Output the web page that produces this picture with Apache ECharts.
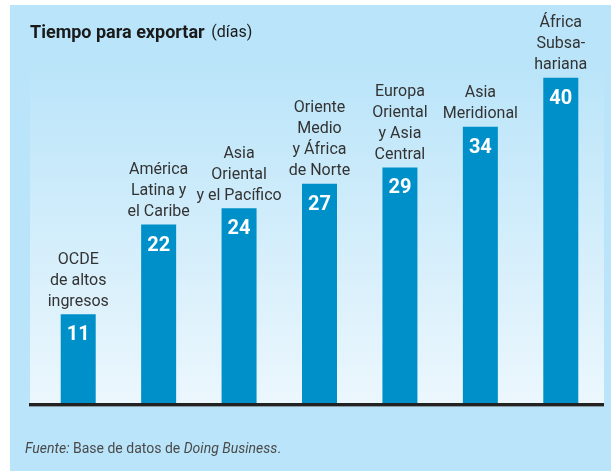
<!DOCTYPE html>
<html>
<head>
<meta charset="utf-8">
<script src="https://cdn.jsdelivr.net/npm/echarts@6/dist/echarts.min.js"></script>
<style>
  html, body { margin: 0; padding: 0; background: #ffffff; }
  #chart { width: 611px; height: 471px; }
</style>
</head>
<body>
<div id="chart"></div>
<script>
// Days needed to export, by region
const categories = [
  'OCDE\nde altos\ningresos',
  'América\nLatina y\nel Caribe',
  'Asia\nOriental\ny el Pacífico',
  'Oriente\nMedio\ny África\nde Norte',
  'Europa\nOriental\ny Asia\nCentral',
  'Asia\nMeridional',
  'África\nSubsa-\nhariana'
];
const days = [11, 22, 24, 27, 29, 34, 40];

const FONT = 'Roboto, "Noto Sans", sans-serif';

const chart = echarts.init(document.getElementById('chart'), null, { renderer: 'canvas' });

chart.setOption({
  backgroundColor: '#ffffff',
  animation: false,
  graphic: [
    // outer panel
    { type: 'rect', z: -10, shape: { x: 10, y: 5, width: 601, height: 466 },
      style: { fill: '#b9e4f9' } },
    // plot panel with vertical fade
    { type: 'rect', z: -9, shape: { x: 30, y: 60, width: 574, height: 345 },
      style: { fill: new echarts.graphic.LinearGradient(0, 0, 0, 1, [
        { offset: 0, color: '#b9e4f9' },
        { offset: 1, color: '#ecf7fd' }
      ]) } },
    // baseline
    { type: 'rect', z: 10, shape: { x: 29, y: 403, width: 575, height: 3 },
      style: { fill: '#222222' } },
    { type: 'rect', z: 9, shape: { x: 29, y: 406, width: 575, height: 1 },
      style: { fill: '#8a9aa3' } },
    // title
    { type: 'text', left: 30, top: 24, z: 20,
      style: {
        text: '{b|Tiempo para exportar}  {n|(días)}',
        rich: {
          b: { fontFamily: FONT, fontWeight: 'bold', fontSize: 18, fill: '#1a1a1a', color: '#1a1a1a' },
          n: { fontFamily: FONT, fontSize: 16, fill: '#1a1a1a', color: '#1a1a1a' }
        }
      } },
    // source note
    { type: 'text', left: 25, top: 442, z: 20,
      style: {
        text: '{i|Fuente:} Base de datos de {i|Doing Business}.',
        font: '14px ' + FONT, fill: '#4a4a4a',
        rich: { i: { fontStyle: 'italic', fontSize: 14, fontFamily: FONT, fill: '#4a4a4a', color: '#4a4a4a' } }
      } }
  ],
  grid: { left: 38, right: 10, top: 37, bottom: 67, containLabel: false },
  xAxis: {
    type: 'category',
    data: categories,
    axisLine: { show: false },
    axisTick: { show: false },
    axisLabel: { show: false }
  },
  yAxis: {
    type: 'value', min: 0, max: 45,
    show: false,
    splitLine: { show: false }
  },
  series: [
    {
      type: 'bar',
      data: days,
      barWidth: 35,
      itemStyle: { color: '#0090c9' },
      label: {
        show: true, position: 'insideTop', distance: 11,
        color: '#ffffff', fontFamily: FONT, fontWeight: 'bold', fontSize: 20
      },
      z: 3
    },
    {
      type: 'bar',
      data: days,
      barWidth: 35,
      barGap: '-100%',
      itemStyle: { color: 'rgba(0,0,0,0)' },
      label: {
        show: true, position: 'top', distance: 2,
        formatter: (p) => categories[p.dataIndex],
        color: '#333333', fontFamily: FONT, fontSize: 16, lineHeight: 21, align: 'center'
      },
      silent: true,
      z: 2
    }
  ]
});
</script>
</body>
</html>
